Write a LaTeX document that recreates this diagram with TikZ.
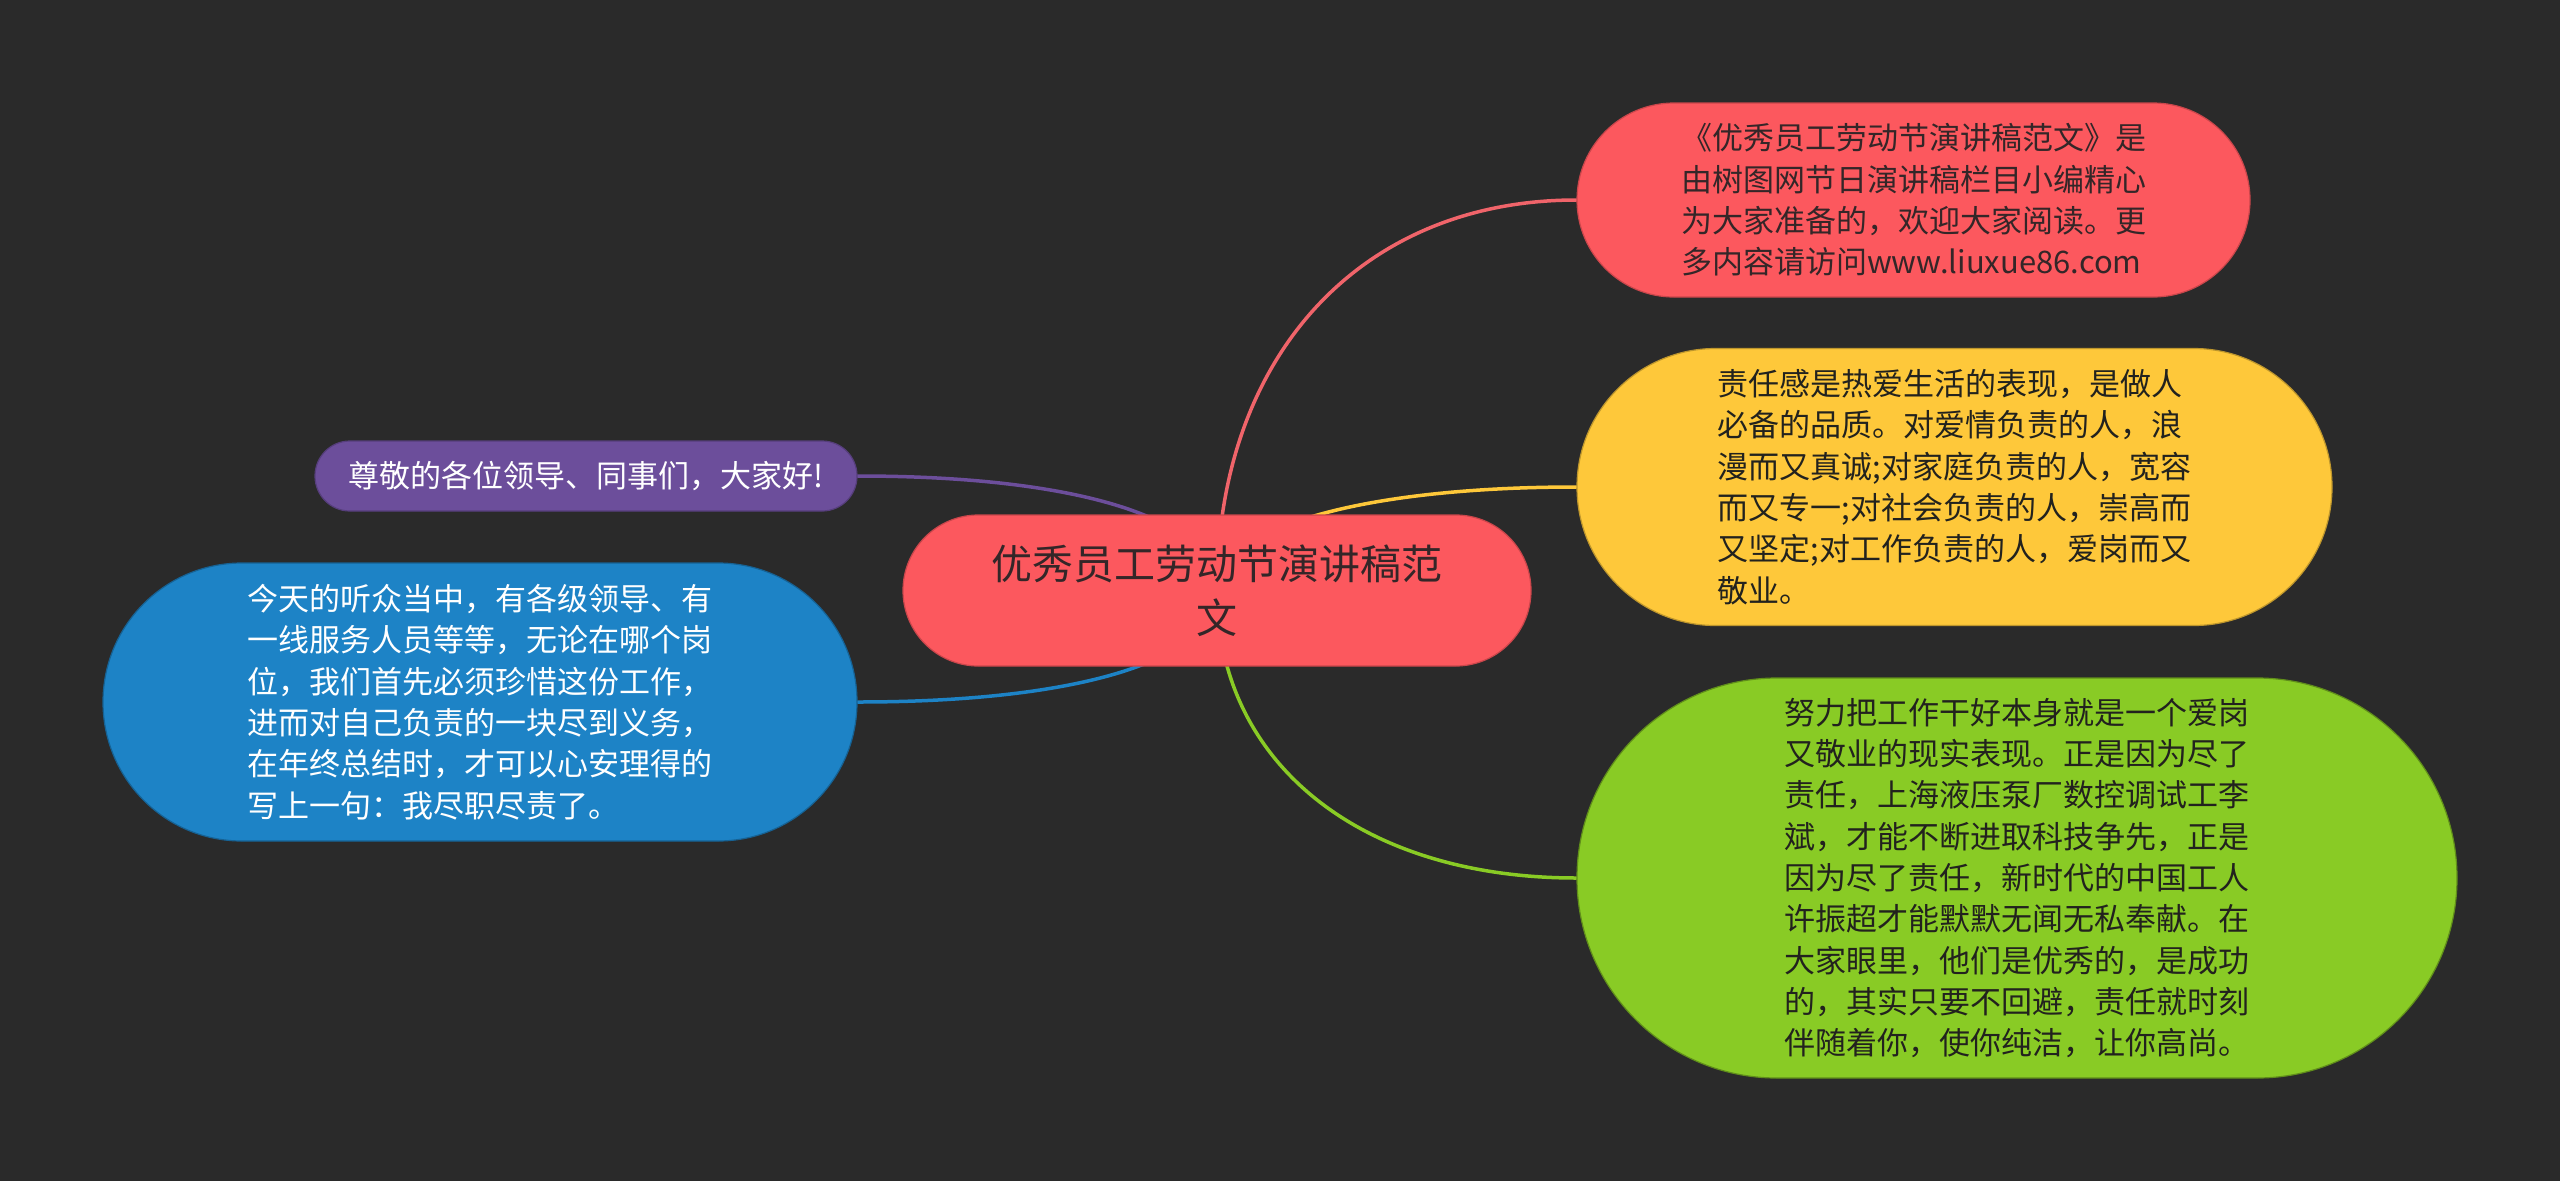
\documentclass[tikz,border=0pt]{standalone}
\usepackage{fontspec}
\newfontfamily\cjk{Noto Sans CJK SC}
\usetikzlibrary{calc}
\pgfdeclarelayer{bglayer}
\pgfdeclarelayer{linelayer}
\pgfsetlayers{bglayer,linelayer,main}
\definecolor{bgc}{RGB}{42,42,42}
\definecolor{redc}{RGB}{252,88,94}
\definecolor{redline}{RGB}{240,100,106}
\definecolor{yelc}{RGB}{254,200,58}
\definecolor{grnc}{RGB}{137,203,37}
\definecolor{bluc}{RGB}{29,131,198}
\definecolor{purc}{RGB}{108,78,155}
\definecolor{darktxt}{RGB}{52,38,40}
\definecolor{blacktxt}{RGB}{34,34,30}
\begin{document}
\begin{tikzpicture}[x=1pt,y=-1pt,
  pill/.style={rectangle, inner sep=0pt, align=left, line width=1.2pt,
    font=\cjk\fontsize{31}{41.3}\selectfont},
  link/.style={line width=3.5pt, line cap=round}]
\useasboundingbox (0,0) rectangle (2560,1181);
\begin{pgfonlayer}{bglayer}
\fill[bgc] (0,0) rectangle (2560,1181);
\end{pgfonlayer}

% center
\node[pill, align=center, fill=redc, draw=redc!80!black, text=darktxt,
  minimum width=628pt, minimum height=151pt, rounded corners=75.4pt,
  font=\cjk\fontsize{41}{54}\selectfont] (c) at (1217,590.5)
  {优秀员工劳动节演讲稿范\\文};

% right children
\node[pill, fill=redc, draw=redc!80!black, text=darktxt,
  minimum width=673pt, minimum height=194pt, rounded corners=96.9pt] (n1) at (1913.5,200)
  {《优秀员工劳动节演讲稿范文》是\\由树图网节日演讲稿栏目小编精心\\为大家准备的，欢迎大家阅读。更\\多内容请访问www.liuxue86.com};

\node[pill, fill=yelc, draw=yelc!75!black, text=blacktxt,
  minimum width=755pt, minimum height=277pt, rounded corners=138.4pt] (n2) at (1954.5,487)
  {责任感是热爱生活的表现，是做人\\必备的品质。对爱情负责的人，浪\\漫而又真诚;对家庭负责的人，宽容\\而又专一;对社会负责的人，崇高而\\又坚定;对工作负责的人，爱岗而又\\敬业。};

\node[pill, fill=grnc, draw=grnc!70!black, text=blacktxt,
  minimum width=880pt, minimum height=400pt, rounded corners=199.9pt] (n3) at (2017,878)
  {努力把工作干好本身就是一个爱岗\\又敬业的现实表现。正是因为尽了\\责任，上海液压泵厂数控调试工李\\斌，才能不断进取科技争先，正是\\因为尽了责任，新时代的中国工人\\许振超才能默默无闻无私奉献。在\\大家眼里，他们是优秀的，是成功\\的，其实只要不回避，责任就时刻\\伴随着你，使你纯洁，让你高尚。};

% left children
\node[pill, fill=purc, draw=purc!80!black, text=white,
  minimum width=542pt, minimum height=70pt, rounded corners=34.9pt] (n4) at (586,476)
  {尊敬的各位领导、同事们，大家好!};

\node[pill, fill=bluc, draw=bluc!75!black, text=white,
  minimum width=754pt, minimum height=278pt, rounded corners=138.9pt] (n5) at (480,702)
  {今天的听众当中，有各级领导、有\\一线服务人员等等，无论在哪个岗\\位，我们首先必须珍惜这份工作，\\进而对自己负责的一块尽到义务，\\在年终总结时，才可以心安理得的\\写上一句：我尽职尽责了。};

\begin{pgfonlayer}{linelayer}
\draw[link, redline] (c.center) .. controls ($(c.center)!0.6!(c.center |- n1.west)$) and ($(n1.west)!0.6!(c.center |- n1.west)$) .. (n1.west);
\draw[link, yelc] (c.center) .. controls ($(c.center)!0.6!(c.center |- n2.west)$) and ($(n2.west)!0.6!(c.center |- n2.west)$) .. (n2.west);
\draw[link, grnc] (c.center) .. controls ($(c.center)!0.6!(c.center |- n3.west)$) and ($(n3.west)!0.6!(c.center |- n3.west)$) .. (n3.west);
\draw[link, purc] (c.center) .. controls ($(c.center)!0.62!(c.center |- n4.east)$) and ($(n4.east)!0.62!(c.center |- n4.east)$) .. (n4.east);
\draw[link, bluc] (c.center) .. controls ($(c.center)!0.62!(c.center |- n5.east)$) and ($(n5.east)!0.62!(c.center |- n5.east)$) .. (n5.east);
\end{pgfonlayer}
\end{tikzpicture}
\end{document}
